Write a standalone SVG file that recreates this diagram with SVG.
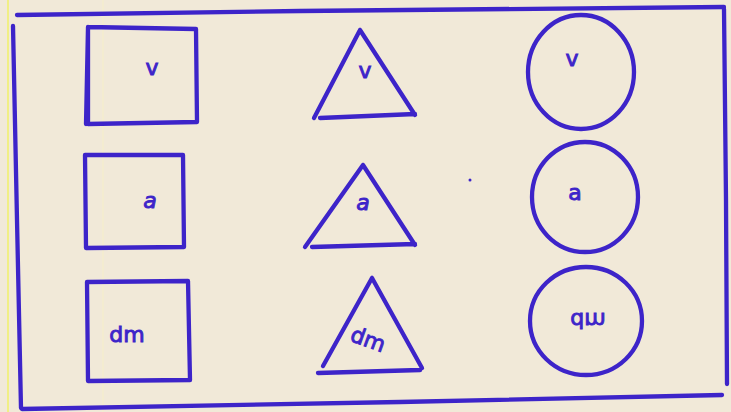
<svg xmlns="http://www.w3.org/2000/svg" width="731" height="412" viewBox="0 0 731 412">
<style>
.ink{fill:none;stroke:#3d24c9;stroke-width:4.3;stroke-linecap:round;stroke-linejoin:round}
.lbl{font-family:"DejaVu Sans","Liberation Sans",sans-serif;font-size:22px;fill:#3d24c9;stroke:#3d24c9;stroke-width:0.9;text-anchor:middle}
</style>
<rect x="0" y="0" width="731" height="412" fill="#f1e9d8"/>
<line x1="8" y1="0" x2="8" y2="412" stroke="#f0f06a" stroke-width="1.5"/>
<line x1="103" y1="0" x2="103" y2="412" stroke="#f6efc8" stroke-width="1"/>
<g id="frame">
<path class="ink" d="M17,15 L300,11 L724,7"/>
<path class="ink" d="M724,9 L726,200 L727,384"/>
<path class="ink" d="M22,409 L400,402 L722,395"/>
<path class="ink" d="M13,26 L17,220 L21,408"/>
</g>
<g id="connectors"/>
<g id="sq-v">
<path class="ink" d="M88,27 L196,29 L197,122 L88,124 Z M88,27 L86,124"/>
<text class="lbl" x="152" y="75">v</text>
</g>
<g id="sq-a">
<path class="ink" d="M85,155 L183,155 L184,247 L86,248 Z"/>
<text class="lbl" x="150" y="208" font-style="italic">a</text>
</g>
<g id="sq-dm">
<path class="ink" d="M87,282 L188,281 L190,380 L88,381 Z"/>
<text class="lbl" x="127" y="342">dm</text>
</g>
<g id="tri-v">
<path class="ink" d="M360,30 L314,118 M360,30 L415,115 M320,118 L415,114"/>
<text class="lbl" x="365" y="78">v</text>
</g>
<g id="tri-a">
<path class="ink" d="M363,165 L305,247 M363,165 L415,245 M312,247 L415,244"/>
<text class="lbl" x="363" y="210" font-style="italic">a</text>
</g>
<g id="tri-dm">
<path class="ink" d="M372,278 L323,366 M372,278 L422,368 M318,373 L420,370"/>
<text class="lbl" x="368" y="347" transform="rotate(20 368 340)">dm</text>
</g>
<g id="circ-v">
<ellipse class="ink" cx="581" cy="72" rx="53" ry="57"/>
<text class="lbl" x="572" y="66">v</text>
</g>
<g id="circ-a">
<ellipse class="ink" cx="585" cy="197" rx="53" ry="55"/>
<text class="lbl" x="575" y="200">a</text>
</g>
<g id="circ-dm">
<ellipse class="ink" cx="586" cy="321" rx="56" ry="54"/>
<text class="lbl" x="588" y="327" transform="translate(0 640) scale(1 -1)">dm</text>
</g>
<circle cx="470" cy="180" r="1.5" fill="#3d24c9"/>
</svg>
